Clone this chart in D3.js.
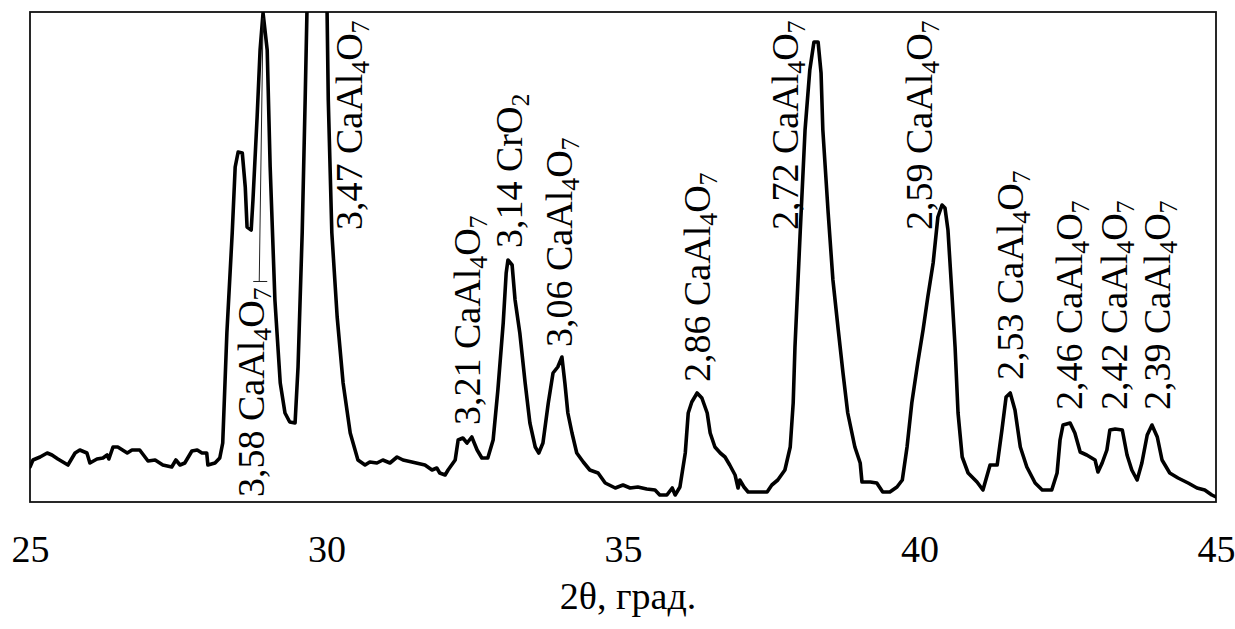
<!DOCTYPE html>
<html>
<head>
<meta charset="utf-8">
<script src="https://cdn.jsdelivr.net/npm/d3@7"></script>
<style>
  html, body { margin: 0; padding: 0; background: #fff; }
  text { font-family: "Liberation Serif", "DejaVu Serif", serif; fill: #000; }
</style>
</head>
<body>
<script>
// 2theta positions (degrees) of the traced pattern
var twoTheta = [25.00,25.05,25.17,25.29,25.37,25.47,25.64,25.76,25.84,25.96,26.01,26.13,26.23,26.30,26.33,26.40,26.48,26.64,26.72,26.85,26.99,27.11,27.24,27.39,27.46,27.53,27.61,27.73,27.82,27.90,27.98,28.00,28.12,28.20,28.25,
  28.32,28.41,28.46,28.51,28.58,28.63,28.66,28.73,28.76,28.83,28.88,28.93,29.00,29.05,29.13,29.22,29.30,29.38,29.47,29.52,29.59,29.64,29.67,29.84,30.01,30.03,30.09,30.18,30.28,30.40,30.53,30.65,30.73,30.85,30.95,31.07,31.19,31.29,31.44,31.66,31.78,31.86,31.91,32.00,32.05,32.17,32.22,32.30,32.37,32.45,32.54,32.62,32.72,32.81,32.89,32.98,33.03,33.06,33.13,33.18,33.26,33.35,33.43,33.52,33.58,33.65,33.74,33.82,33.90,33.97,34.02,34.07,34.14,34.22,34.33,34.44,34.58,34.70,
  34.87,35.00,35.12,35.25,35.40,35.54,35.62,35.74,35.83,35.88,35.96,36.05,36.10,36.16,36.25,36.33,36.42,36.47,36.55,36.64,36.72,36.80,36.89,36.94,36.97,37.04,37.11,37.26,37.43,37.51,37.61,37.73,37.82,37.87,
  37.90,37.99,38.07,38.15,38.22,38.29,38.34,38.37,38.46,38.54,38.63,38.71,38.79,38.91,39.00,39.03,39.17,39.28,39.38,39.50,39.62,39.71,39.79,39.87,39.97,40.06,40.14,40.23,40.31,40.38,40.43,40.48,40.55,40.60,40.65,40.72,40.82,40.97,41.07,
  41.19,41.31,41.39,41.46,41.53,41.61,41.70,41.81,41.95,42.07,42.23,42.32,42.37,42.42,42.54,42.62,42.71,42.82,42.96,43.01,43.08,43.16,43.21,43.30,43.42,43.50,43.58,43.67,43.75,43.84,43.92,44.01,44.09,44.22,44.36,44.53,44.68,44.81,44.93,45.00];

// intensity, arbitrary units (the 29.8 peak runs off the top)
var intensity = [35,42,45,49,47,43,37,49,52,49,39,43,44,47,43,55,55,49,52,52,41,42,37,35,42,37,39,51,52,49,49,37,39,44,59,
  169,269,335,350,349,315,275,272,302,385,452,489,452,335,202,119,89,80,79,135,269,402,489,800,489,402,269,185,119,69,42,37,40,39,42,39,45,42,40,37,32,34,29,27,32,42,62,64,59,65,52,44,44,62,112,179,229,242,237,202,169,119,79,55,49,59,99,129,135,145,119,89,69,49,40,32,29,19,
  14,17,14,15,13,12,7,7,14,7,15,49,89,100,109,104,89,69,55,49,45,37,27,14,22,15,10,10,10,17,22,32,55,99,
  155,272,372,432,460,460,429,372,289,222,172,129,89,55,39,20,20,19,10,10,15,22,55,99,139,172,205,239,285,297,294,272,205,155,89,45,29,20,12,
  37,37,72,105,109,92,55,35,19,12,12,29,62,77,79,69,50,47,42,30,39,52,72,73,72,47,32,22,39,67,77,65,42,29,24,19,14,12,7,5];

var xTicks = [25, 30, 35, 40, 45];
var xTitle = "2\u03B8, \u0433\u0440\u0430\u0434.";

// peak labels ("_" marks a subscript digit), where each label starts
var peakLabels = ["3,58 CaAl_4O_7", "3,47 CaAl_4O_7", "3,21 CaAl_4O_7", "3,14 CrO_2", "3,06 CaAl_4O_7",
  "2,86 CaAl_4O_7", "2,72 CaAl_4O_7", "2,59 CaAl_4O_7", "2,53 CaAl_4O_7", "2,46 CaAl_4O_7",
  "2,42 CaAl_4O_7", "2,39 CaAl_4O_7"];
var labelTheta = [28.95, 30.60, 32.59, 33.30, 34.14, 36.47, 37.95, 40.21, 41.75, 42.74, 43.50, 44.22];
var labelLevel = [5, 272, 77, 254, 155, 120, 272, 272, 122, 92, 92, 92];
// leader from the first label up to its peak
var leaderTheta = 28.93, leaderTop = 484;

var width = 1235, height = 629;
var plotLeft = 30, plotRight = 1216, plotTop = 12, plotBottom = 502;

var svg = d3.select("body").append("svg").attr("width", width).attr("height", height);

var x = d3.scaleLinear().domain([25, 45]).range([plotLeft, plotRight]);
var y = d3.scaleLinear().domain([0, 490]).range([plotBottom, plotTop]);

svg.append("clipPath").attr("id", "plot-clip")
  .append("rect").attr("x", plotLeft).attr("y", plotTop)
  .attr("width", plotRight - plotLeft).attr("height", plotBottom - plotTop);

// frame
svg.append("rect").attr("x", plotLeft).attr("y", plotTop)
  .attr("width", plotRight - plotLeft).attr("height", plotBottom - plotTop)
  .attr("fill", "none").attr("stroke", "#111").attr("stroke-width", 1.8);

//The pattern itself.
var pts = twoTheta.map(function(t, i) { return [t, intensity[i]]; });
var line = d3.line().x(function(d) { return x(d[0]); }).y(function(d) { return y(d[1]); });
svg.append("path").datum(pts).attr("d", line)
  .attr("clip-path", "url(#plot-clip)")
  .attr("fill", "none").attr("stroke", "#000").attr("stroke-width", 3.6)
  .attr("stroke-linejoin", "round").attr("stroke-linecap", "round");

//Peak labels, rotated to read upwards.
var fs = 38, subShift = 7;
peakLabels.forEach(function(lab, i) {
  var bx = x(labelTheta[i]), by = y(labelLevel[i]);
  var t = svg.append("text").attr("transform", "translate(" + bx + "," + by + ") rotate(-90)")
    .style("font-size", fs + "px");
  var parts = lab.split(/_(\d)/);
  var shifted = false;
  parts.forEach(function(p, k) {
    if (p === "") return;
    var ts = t.append("tspan").text(p);
    if (k % 2 === 1) {
      ts.attr("dy", subShift).style("font-size", (fs * 0.68) + "px");
      shifted = true;
    } else if (shifted) {
      ts.attr("dy", -subShift);
      shifted = false;
    }
  });
  if (i === 0) {
    var len = t.node().getComputedTextLength();
    var ly = by - len - 6;
    svg.append("line").attr("x1", bx - 11).attr("x2", bx + 3).attr("y1", ly).attr("y2", ly)
      .attr("stroke", "#222").attr("stroke-width", 1);
    svg.append("line").attr("x1", bx - 5).attr("x2", x(leaderTheta)).attr("y1", ly).attr("y2", y(leaderTop))
      .attr("stroke", "#222").attr("stroke-width", 1);
  }
});

//The x axis: labels only.
var xAxis = d3.axisBottom(x).tickValues(xTicks).tickSize(0).tickPadding(33).tickFormat(d3.format("d"));
var ga = svg.append("g").attr("transform", "translate(0," + plotBottom + ")").call(xAxis);
ga.select(".domain").remove();
ga.selectAll("text").style("font-size", "38px").style("font-family", "Liberation Serif").attr("fill", "#000");

svg.append("text").attr("x", (plotLeft + plotRight) / 2 + 5).attr("y", 609)
  .attr("text-anchor", "middle").style("font-size", "38px").text(xTitle);
</script>
</body>
</html>
